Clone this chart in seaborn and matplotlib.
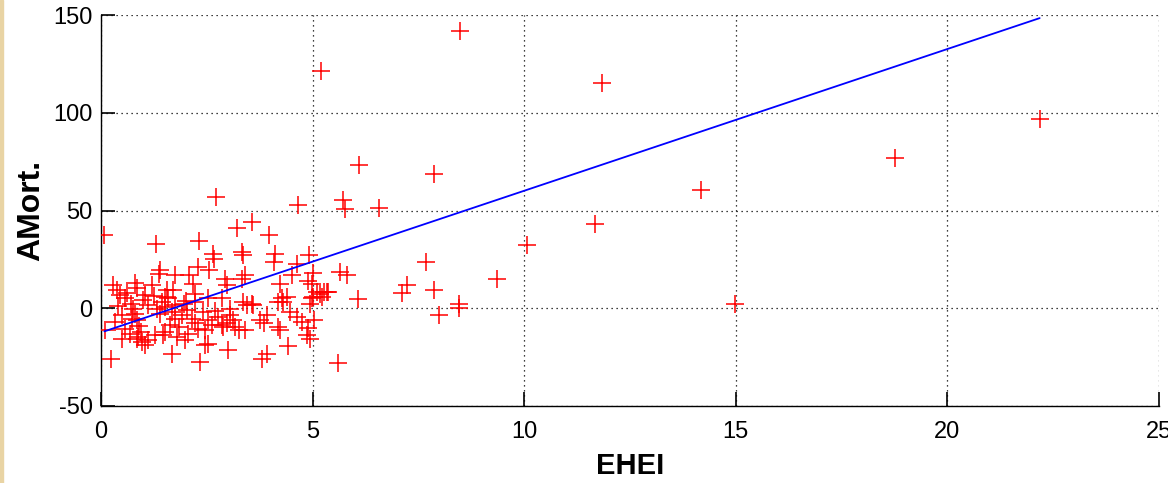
import numpy as np
import pandas as pd
import matplotlib
matplotlib.use("Agg")
import matplotlib.pyplot as plt
import seaborn as sns

# EHEI values (x) and AMort. values (y)
ehei = [8.49, 5.19, 11.84, 22.18, 18.75, 6.10, 7.88, 14.18, 2.72, 4.65, 5.73, 5.76, 6.56,
        11.67, 10.06, 7.67, 9.36, 7.23, 7.11, 7.86, 7.99, 8.45, 8.45, 14.99, 5.61,
        0.08, 1.29, 2.32, 3.21, 3.56, 3.98, 2.64, 2.67, 3.33, 3.36, 4.10, 4.08, 4.92, 4.63,
        2.30, 1.39, 1.36, 1.75, 2.09, 2.18, 4.51, 5.65, 5.81, 5.02, 4.90, 4.98, 5.18, 5.37,
        5.26, 5.02, 6.08, 4.31, 4.39, 4.27, 4.94, 4.23, 2.93, 2.97, 3.33, 3.40, 2.55,
        0.29, 0.37, 0.45, 0.57, 0.80, 0.84, 1.20, 1.51, 1.59, 1.43, 1.75, 1.95, 2.22, 2.22,
        1.71, 1.55, 2.54, 2.87, 0.76, 0.80, 0.73, 0.84, 0.49, 0.33, 0.57, 0.09, 1.12, 1.32,
        1.39, 1.51, 1.67, 1.75, 1.91, 2.03, 2.14, 2.22, 2.30, 2.46, 2.54, 2.62, 0.69, 0.84,
        0.96, 1.04, 0.88, 1.12, 1.28, 1.47, 1.51, 1.99, 2.06, 2.46, 2.54, 0.24, 1.67, 2.34,
        2.77, 2.85, 3.36, 3.44, 3.56, 3.60, 4.19, 3.05, 3.05, 2.97, 2.89, 3.17, 3.25, 3.40,
        3.92, 3.76, 3.84, 4.47, 4.62, 4.76, 5.04, 4.90, 4.86, 4.95, 3.01, 3.92, 3.80, 4.43,
        0.49, 4.19, 4.23, 5.10, 5.33, 5.22, 4.98, 3.13, 0.62, 0.70, 0.90, 1.00, 1.25, 1.62,
        1.85, 2.40, 0.40, 0.95, 1.05, 1.80, 2.00, 2.70]
amort = [141.8, 121.5, 115.2, 96.7, 77.1, 73.5, 68.7, 60.3, 57.0, 52.7, 55.6, 50.6, 51.3,
         43.3, 32.6, 23.7, 14.9, 11.8, 7.9, 9.2, -3.2, 2.4, 0.3, 2.4, -28.0,
         37.7, 33.1, 34.5, 40.8, 44.2, 37.4, 28.0, 25.0, 28.8, 27.1, 28.0, 23.7, 27.1, 22.8,
         21.2, 19.4, 17.7, 16.9, 16.9, 12.6, 16.9, 18.6, 16.9, 18.1, 13.8, 12.6, 7.5, 8.4,
         8.4, 5.8, 4.9, 3.0, 5.8, 5.0, 2.4, 12.6, 15.2, 11.8, 15.2, 16.9, 19.5,
         11.8, 9.2, 6.6, 5.0, 12.8, 10.2, 11.8, 5.8, 5.0, 3.2, 1.5, 2.4, 3.2, 7.5,
         9.2, 9.2, 5.0, 5.0, -0.2, -2.7, -5.3, -6.1, -3.6, -7.0, -10.4, -11.3, 1.5, -0.2,
         -2.7, 0.7, -1.9, -5.3, -3.6, -1.0, -5.3, -7.8, -10.4, -11.3, -6.1, -8.7, -13.0, -15.5,
         -17.2, -18.9, -14.7, -16.4, -13.8, -13.8, -12.1, -16.4, -13.0, -18.9, -18.1, -25.8, -23.2, -27.5,
         -4.4, -8.7, 3.2, 1.5, 2.4, 1.5, 3.2, -0.2, -3.6, -7.8, -9.6, -9.6, -11.3, -11.3,
         -3.6, -6.1, -7.8, -1.9, -4.4, -7.0, -5.8, -10.2, -13.5, -15.5, -21.5, -23.2, -25.8, -19.2,
         -15.5, -9.6, -11.3, 8.4, 8.4, 5.8, 5.0, -6.1, 8.0, 2.0, -9.0, 4.0, 6.5, -8.5,
         -9.5, -2.0, 1.0, -12.0, 7.0, -14.5, 3.5, -1.5]

# least-squares line shown in the chart
fit_slope = 7.25
fit_intercept = -12.4

x_ticks = [0, 5, 10, 15, 20, 25]
y_ticks = [-50, 0, 50, 100, 150]

df = pd.DataFrame({"EHEI": ehei, "AMort": amort})
line_x = np.array([df["EHEI"].min(), df["EHEI"].max()])
line_df = pd.DataFrame({"EHEI": line_x, "AMort": fit_intercept + fit_slope * line_x})

sns.set_style("white")
plt.rcParams["font.family"] = ["Liberation Sans", "DejaVu Sans"]
plt.rcParams["axes.unicode_minus"] = False
plt.rcParams["text.color"] = "black"
plt.rcParams["axes.labelcolor"] = "black"
plt.rcParams["xtick.color"] = "black"
plt.rcParams["ytick.color"] = "black"

fig = plt.figure(figsize=(11.68, 4.83), dpi=100)
ax = fig.add_axes([101 / 1168, 1 - 406 / 483, 1058 / 1168, 391 / 483])

sns.scatterplot(data=df, x="EHEI", y="AMort", marker="+", color="red", s=150,
                linewidth=1.1, ax=ax, zorder=3)
sns.lineplot(data=line_df, x="EHEI", y="AMort", color="blue", linewidth=1.3, ax=ax, zorder=4)

ax.set_xlim(0, 25)
ax.set_ylim(-50, 150)
ax.set_xticks(x_ticks)
ax.set_yticks(y_ticks)
ax.grid(True, linestyle=(0, (1, 3)), color="black", linewidth=0.9)
ax.tick_params(direction="in", length=10, width=1.2, labelsize=17, bottom=True, left=True,
               colors="black")
ax.tick_params(axis="x", pad=11)
ax.tick_params(axis="y", pad=6)
for s in ["top", "right"]:
    ax.spines[s].set_visible(False)
for s in ["left", "bottom"]:
    ax.spines[s].set_color("black")
    ax.spines[s].set_linewidth(1.0)

ax.set_xlabel("EHEI", fontsize=21, fontweight="bold", labelpad=6)
ax.set_ylabel("AMort.", fontsize=23, fontweight="bold", labelpad=5)

# beige strip on the left edge
fig.patches.append(plt.Rectangle((0, 0), 3 / 1168, 1, transform=fig.transFigure,
                                 color="#e9d4a4", zorder=0))

fig.savefig("out.png", dpi=100)
